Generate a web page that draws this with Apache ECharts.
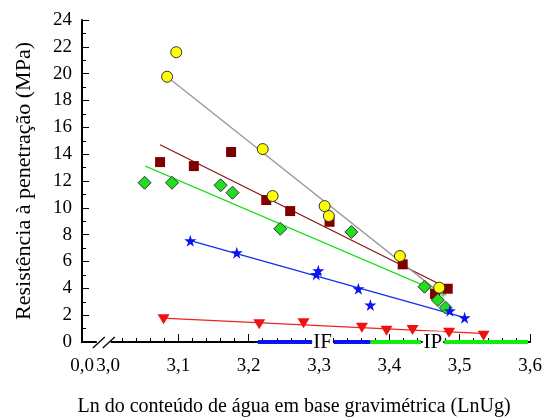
<!DOCTYPE html>
<html>
<head>
<meta charset="utf-8">
<script src="https://cdn.jsdelivr.net/npm/echarts@6/dist/echarts.min.js"></script>
<style>
  html, body { margin: 0; padding: 0; background: #fff; }
  #chart { width: 547px; height: 417px; }
</style>
</head>
<body>
<div id="chart"></div>
<script>
// measured points [LnUg, MPa]
const circles = [[3.084, 19.77], [3.097, 21.6], [3.220, 14.38], [3.234, 10.88], [3.308, 10.13], [3.314, 9.39], [3.415, 6.41], [3.471, 4.05]];
const squares = [[3.074, 13.41], [3.122, 13.11], [3.175, 14.16], [3.225, 10.58], [3.259, 9.76], [3.315, 8.96], [3.419, 5.79], [3.465, 3.58], [3.483, 3.97]];
const diamonds = [[3.052, 11.87], [3.091, 11.87], [3.160, 11.68], [3.177, 11.13], [3.245, 8.44], [3.346, 8.20], [3.450, 4.12], [3.469, 3.13], [3.480, 2.56]];
const stars = [[3.117, 7.55], [3.183, 6.66], [3.296, 5.04], [3.299, 5.31], [3.356, 3.97], [3.373, 2.76], [3.486, 2.33], [3.507, 1.81]];
const triangles = [[3.079, 1.69], [3.215, 1.32], [3.278, 1.39], [3.361, 1.07], [3.396, 0.84], [3.433, 0.89], [3.485, 0.69], [3.534, 0.47]];

// fitted lines, endpoints
const circleFit = [[3.084, 19.77], [3.478, 3.4]];
const squareFit = [[3.074, 14.70], [3.479, 4.12]];
const diamondFit = [[3.053, 13.11], [3.481, 3.50]];
const starFit = [[3.117, 7.55], [3.507, 1.81]];
const triangleFit = [[3.077, 1.78], [3.538, 0.62]];

// ranges drawn along the x axis
const ifRanges = [[3.213, 3.290], [3.321, 3.373]];
const ipRanges = [[3.373, 3.445], [3.478, 3.597]];
const rangeNames = ['IF', 'IP'];
const rangeNameX = [3.305, 3.462];

const xMin = 2.963;
const xMax = 3.6;
const xLabels = [3.0, 3.1, 3.2, 3.3, 3.4, 3.5, 3.6];
const xMajorTicks = [3.1, 3.2, 3.3, 3.4, 3.5, 3.6];
const xMinorTicks = [];
for (let i = 1; i <= 30; i++) xMinorTicks.push(+(3.0 + i * 0.02).toFixed(2));

const font = 'Liberation Serif';
const star = 'path://M50,0 L61,35 L98,35 L68,57 L79,91 L50,70 L21,91 L32,57 L2,35 L39,35 Z';

const chart = echarts.init(document.getElementById('chart'));

const fitLine = (data, color) => ({
    type: 'line', data: data, showSymbol: false, symbol: 'none',
    lineStyle: { color: color, width: 1.3 }, z: 2, silent: true
});
const rangeLine = (range, color) => ({
    type: 'line', data: [[range[0], 0], [range[1], 0]], symbol: 'none',
    lineStyle: { color: color, width: 4 }, z: 1, silent: true
});

const series = [
    fitLine(squareFit, '#8b1414'),
    fitLine(diamondFit, '#22e022'),
    fitLine(starFit, '#1030ee'),
    fitLine(triangleFit, '#ee2222'),
    fitLine(circleFit, '#999999'),
    ...ifRanges.map(r => rangeLine(r, '#0a14f0')),
    ...ipRanges.map(r => rangeLine(r, '#10ee10')),
    {
        type: 'scatter', data: squares, symbol: 'rect', symbolSize: 10,
        itemStyle: { color: '#800000', opacity: 1 }, z: 3
    },
    {
        type: 'scatter', data: diamonds, symbol: 'diamond', symbolSize: [13, 13],
        itemStyle: { color: '#22dd22', borderColor: '#333', borderWidth: 1, opacity: 1 }, z: 4
    },
    {
        type: 'scatter', data: stars, symbol: star, symbolSize: 12,
        itemStyle: { color: '#0a14f0', opacity: 1 }, z: 4
    },
    {
        type: 'scatter', data: triangles, symbol: 'triangle', symbolRotate: 180, symbolSize: [12, 10],
        itemStyle: { color: '#f01010', opacity: 1 }, z: 4
    },
    {
        type: 'scatter', data: circles, symbol: 'circle', symbolSize: 11,
        itemStyle: { color: '#ffff00', borderColor: '#333', borderWidth: 1, opacity: 1 }, z: 5
    },
    {
        type: 'scatter', symbolSize: 0, z: 6, silent: true,
        itemStyle: { opacity: 1 },
        data: rangeNames.map((n, i) => ({ name: n, value: [rangeNameX[i], 0] })),
        label: {
            show: true, position: 'inside', formatter: '{b}',
            fontFamily: font, fontSize: 21, color: '#000',
            backgroundColor: '#fff', padding: [0, 1]
        }
    }
];

chart.setOption({
    animation: false,
    grid: { left: 82, right: 17, top: 20, bottom: 75, containLabel: false, outerBoundsMode: 'none' },
    xAxis: [
        {
            type: 'value', min: xMin, max: xMax, position: 'bottom',
            axisLine: { show: true, onZero: false, lineStyle: { color: '#000', width: 2 } },
            axisTick: { show: true, inside: true, length: 4, customValues: xMinorTicks, lineStyle: { color: '#000', width: 1 } },
            axisLabel: {
                customValues: [xMin].concat(xLabels),
                formatter: v => (v < 3 ? '0,0' : v.toFixed(1).replace('.', ',')),
                fontFamily: font, fontSize: 19, color: '#000', margin: 15
            },
            splitLine: { show: false },
            name: 'Ln do conteúdo de água em base gravimétrica (LnUg)',
            nameLocation: 'middle', nameGap: 55,
            nameTextStyle: { fontFamily: font, fontSize: 20, color: '#000', padding: [0, 24, 0, 0] }
        },
        {
            type: 'value', min: xMin, max: xMax, position: 'bottom',
            axisLine: { show: false },
            axisTick: { show: true, inside: true, length: 8, customValues: xMajorTicks, lineStyle: { color: '#000', width: 1 } },
            axisLabel: { show: false },
            splitLine: { show: false }
        }
    ],
    yAxis: {
        type: 'value', min: 0, max: 24, interval: 2,
        axisLine: { show: true, lineStyle: { color: '#000', width: 2 } },
        axisTick: { show: true, inside: true, length: 7, lineStyle: { color: '#000', width: 1 } },
        minorTick: { show: true, splitNumber: 2, length: 4, lineStyle: { color: '#000', width: 1 } },
        axisLabel: { fontFamily: font, fontSize: 19, color: '#000', margin: 10 },
        splitLine: { show: false },
        name: 'Resistência à penetração (MPa)',
        nameLocation: 'middle', nameGap: 47,
        nameTextStyle: { fontFamily: font, fontSize: 22, color: '#000' }
    },
    series: series
});

// axis break mark on the x axis
const p = chart.convertToPixel({ gridIndex: 0 }, [2.994, 0]);
chart.setOption({
    graphic: [
        { type: 'rect', shape: { x: p[0] - 7, y: p[1] - 3, width: 14, height: 6 }, style: { fill: '#fff' }, z: 100 },
        { type: 'line', shape: { x1: p[0] - 11, y1: p[1] + 6, x2: p[0] + 1, y2: p[1] - 5 }, style: { stroke: '#000', lineWidth: 1.3 }, z: 101 },
        { type: 'line', shape: { x1: p[0] - 1, y1: p[1] + 6, x2: p[0] + 11, y2: p[1] - 5 }, style: { stroke: '#000', lineWidth: 1.3 }, z: 101 }
    ]
});
</script>
</body>
</html>
